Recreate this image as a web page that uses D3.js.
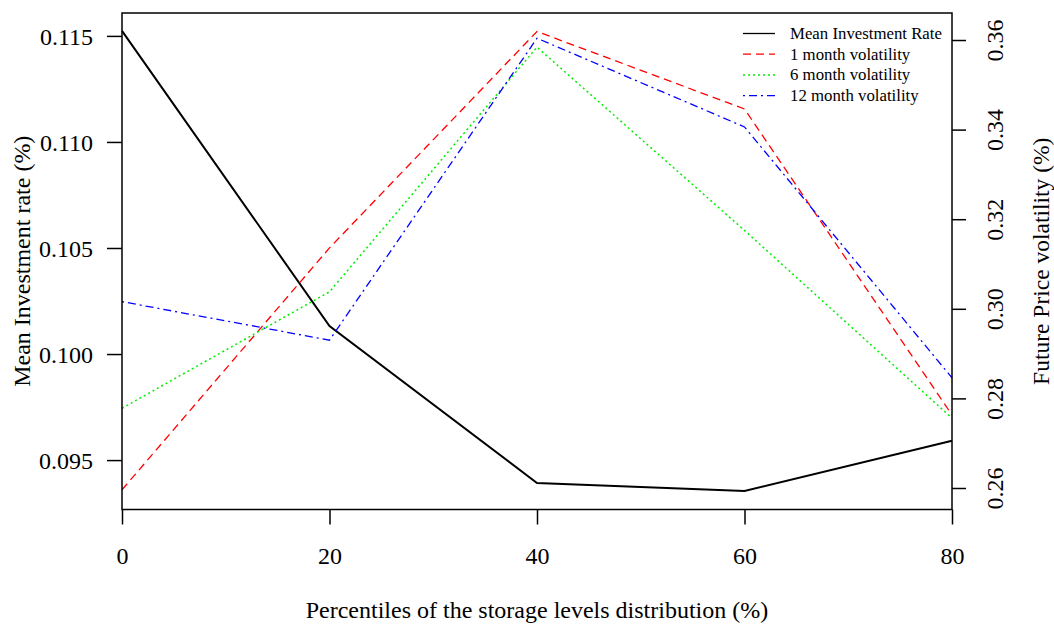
<!DOCTYPE html>
<html><head><meta charset="utf-8">
<script src="https://cdn.jsdelivr.net/npm/d3@7"></script>
<style>body{margin:0;background:#fff}svg{display:block}text{font-family:"Liberation Serif","Times New Roman",serif}</style>
</head><body><svg id="c" width="1054" height="626"></svg>
<script>
const percentiles = [0, 20, 40, 60, 80];
const meanInvestment = [0.11524, 0.10132, 0.09392, 0.09354, 0.09591];
const vol1m = [0.2596, 0.3136, 0.3619, 0.3446, 0.2763];
const vol6m = [0.2778, 0.3038, 0.3584, 0.3175, 0.2756];
const vol12m = [0.3016, 0.2930, 0.3604, 0.3406, 0.2846];
const xTicks = [0, 20, 40, 60, 80];
const leftTicks = [0.095, 0.100, 0.105, 0.110, 0.115];
const rightTicks = [0.26, 0.28, 0.30, 0.32, 0.34, 0.36];
const legendLabels = ["Mean Investment Rate", "1 month volatility", "6 month volatility", "12 month volatility"];

const L = 122, R = 952, T = 13, B = 509.5;
const svg = d3.select("#c");
const x = d3.scaleLinear().domain([0, 80]).range([L, R]);
const yL = d3.scaleLinear().domain([0.09267, 0.11608]).range([B, T]);
const yR = d3.scaleLinear().domain([0.2552, 0.36603]).range([B, T]);

const series = [
  {vals: meanInvestment, y: yL, color: "#000", w: 2, dash: null},
  {vals: vol1m, y: yR, color: "#ff0000", w: 1.3, dash: "8,5"},
  {vals: vol6m, y: yR, color: "#00ee00", w: 1.5, dash: "2,3"},
  {vals: vol12m, y: yR, color: "#0000ff", w: 1.3, dash: "2,4,8,4"}
];
series.forEach(s => {
  const line = d3.line().x((d, i) => x(percentiles[i])).y(d => s.y(d));
  svg.append("path").attr("d", line(s.vals)).attr("fill", "none")
    .attr("stroke", s.color).attr("stroke-width", s.w)
    .attr("stroke-dasharray", s.dash);
});

// box
svg.append("rect").attr("x", L).attr("y", T).attr("width", R - L).attr("height", B - T)
  .attr("fill", "none").attr("stroke", "#000").attr("stroke-width", 1.5);

const FS = 24;
// x axis
const gx = svg.append("g").attr("transform", `translate(0,${B})`)
  .call(d3.axisBottom(x).tickValues(xTicks).tickSize(15).tickPadding(22).tickFormat(d3.format("d")));
// left axis
const gl = svg.append("g").attr("transform", `translate(${L},0)`)
  .call(d3.axisLeft(yL).tickValues(leftTicks).tickSize(15).tickPadding(14).tickFormat(d3.format(".3f")));
// right axis
const gr = svg.append("g").attr("transform", `translate(${R},0)`)
  .call(d3.axisRight(yR).tickValues(rightTicks).tickSize(14).tickPadding(0).tickFormat(d3.format(".2f")));
[gx, gl, gr].forEach(g => {
  g.select(".domain").remove();
  g.selectAll(".tick line").attr("stroke", "#000").attr("stroke-width", 1.5);
  g.selectAll(".tick text").attr("font-family", "Liberation Serif").attr("font-size", FS).attr("fill", "#000");
});
gl.selectAll(".tick text").attr("dy", "0.35em");
gr.selectAll(".tick text").attr("x", null).attr("dy", null)
  .attr("text-anchor", "middle").attr("transform", "translate(43,0) rotate(-90)").attr("y", 8);

// axis titles
svg.append("text").attr("x", (L + R) / 2).attr("y", 618).attr("text-anchor", "middle")
  .attr("font-size", FS).text("Percentiles of the storage levels distribution (%)");
svg.append("text").attr("transform", `translate(30,${(T + B) / 2}) rotate(-90)`).attr("text-anchor", "middle")
  .attr("font-size", FS).text("Mean Investment rate (%)");
svg.append("text").attr("transform", `translate(1049,${(T + B) / 2}) rotate(-90)`).attr("text-anchor", "middle")
  .attr("font-size", 23.5).text("Future Price volatility (%)");

// legend
const lg = svg.append("g");
legendLabels.forEach((lab, i) => {
  const yy = 33.5 + i * 20.7;
  const s = series[i];
  lg.append("line").attr("x1", 743).attr("x2", 775).attr("y1", yy).attr("y2", yy)
    .attr("stroke", s.color).attr("stroke-width", i === 0 ? 1.3 : s.w).attr("stroke-dasharray", s.dash);
  lg.append("text").attr("x", 790).attr("y", yy).attr("dy", "0.33em").attr("font-size", 16.8).text(lab);
});
</script></body></html>
